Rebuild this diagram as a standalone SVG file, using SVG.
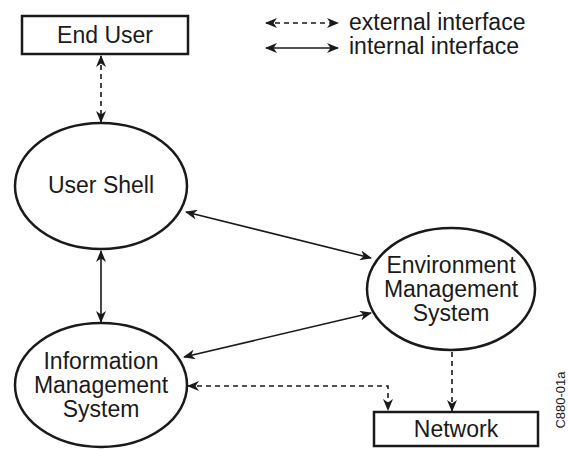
<svg xmlns="http://www.w3.org/2000/svg" width="569" height="450" viewBox="0 0 569 450">
<style>
.node{fill:#fff;stroke:#1a1a1a;stroke-width:2.5}
.t{font-family:"Liberation Sans",Arial,sans-serif;font-size:23px;fill:#1a1a1a;text-anchor:middle}
.lg{font-family:"Liberation Sans",Arial,sans-serif;font-size:23px;fill:#1a1a1a}
.c{fill:none;stroke:#1a1a1a;stroke-width:1.6}
.d{stroke-dasharray:5,4}
</style>
<defs>
<marker id="ah" viewBox="0 0 12 10" refX="11" refY="5" markerWidth="12" markerHeight="10" markerUnits="userSpaceOnUse" orient="auto-start-reverse">
<path d="M0,0 L12,5 L0,10 L3.5,5 z" fill="#1a1a1a"/>
</marker>
</defs>
<g id="connectors">
<line class="c d" x1="101" y1="56" x2="101" y2="122" marker-start="url(#ah)" marker-end="url(#ah)"/>
<line class="c" x1="101" y1="251" x2="101" y2="322" marker-start="url(#ah)" marker-end="url(#ah)"/>
<line class="c" x1="186" y1="212" x2="371" y2="258" marker-start="url(#ah)" marker-end="url(#ah)"/>
<line class="c" x1="184" y1="357" x2="371" y2="313" marker-start="url(#ah)" marker-end="url(#ah)"/>
<polyline class="c d" points="188,386 388,386 388,410" marker-start="url(#ah)" marker-end="url(#ah)"/>
<line class="c d" x1="452" y1="352" x2="452" y2="411" marker-end="url(#ah)"/>
<line class="c d" x1="266" y1="23" x2="338" y2="23" marker-start="url(#ah)" marker-end="url(#ah)"/>
<line class="c" x1="266" y1="48" x2="338" y2="48" marker-start="url(#ah)" marker-end="url(#ah)"/>
</g>
<g id="legend">
<text class="lg" x="349" y="30">external interface</text>
<text class="lg" x="349" y="54">internal interface</text>
</g>
<g id="end-user">
<rect class="node" x="22" y="16" width="166" height="38"/>
<text class="t" x="105" y="43">End User</text>
</g>
<g id="user-shell">
<ellipse class="node" cx="101" cy="186" rx="86" ry="63"/>
<text class="t" x="101" y="193">User Shell</text>
</g>
<g id="information-management-system">
<ellipse class="node" cx="101" cy="385" rx="86" ry="62"/>
<text class="t" x="101" y="369">Information</text>
<text class="t" x="101" y="393">Management</text>
<text class="t" x="101" y="417">System</text>
</g>
<g id="environment-management-system">
<ellipse class="node" cx="451" cy="289" rx="84" ry="61"/>
<text class="t" x="451" y="273">Environment</text>
<text class="t" x="451" y="297">Management</text>
<text class="t" x="451" y="321">System</text>
</g>
<g id="network">
<rect class="node" x="374" y="412" width="164" height="34"/>
<text class="t" x="456" y="437">Network</text>
</g>
<text x="565" y="400" transform="rotate(-90 565 400)" style="font-family:'Liberation Sans',Arial,sans-serif;font-size:13px;fill:#1a1a1a;text-anchor:middle">C880-01a</text>
</svg>
